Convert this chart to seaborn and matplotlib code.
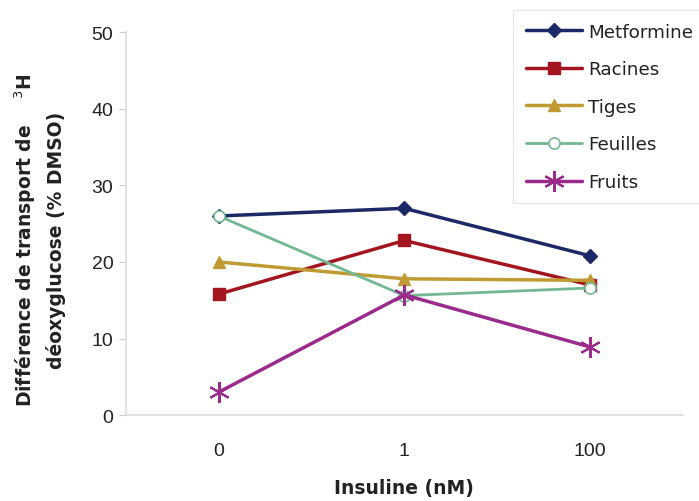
import matplotlib
matplotlib.use("Agg")
import matplotlib.pyplot as plt
import seaborn as sns
import pandas as pd

categories = ["0", "1", "100"]
metformine = [26.0, 27.0, 20.8]
racines = [15.8, 22.8, 17.0]
tiges = [20.0, 17.8, 17.6]
feuilles = [26.0, 15.6, 16.6]
fruits = [3.0, 15.7, 8.9]
y_ticks = [0, 10, 20, 30, 40, 50]

series = {
    "Metformine": metformine,
    "Racines": racines,
    "Tiges": tiges,
    "Feuilles": feuilles,
    "Fruits": fruits,
}
styles = {
    "Metformine": dict(color="#1c2966", marker="D", ms=7, mfc="#1c2966", mec="#1c2966", lw=2.5, mew=1),
    "Racines": dict(color="#a3161f", marker="s", ms=8, mfc="#a3161f", mec="#a3161f", lw=2.5, mew=1),
    "Tiges": dict(color="#c09a32", marker="^", ms=8, mfc="#c09a32", mec="#c09a32", lw=2.5, mew=1),
    "Feuilles": dict(color="#72b894", marker="o", ms=8, mfc="white", mec="#72b894", lw=2.0, mew=1.2),
    "Fruits": dict(color="#9a2a8c", marker=(6, 2, 0), ms=15, mfc="#9a2a8c", mec="#9a2a8c", lw=2.5, mew=1.5),
}

rows = []
for name, vals in series.items():
    for i, (c, v) in enumerate(zip(categories, vals)):
        rows.append(dict(serie=name, pos=i, cat=c, val=v))
df = pd.DataFrame(rows)

sns.set_theme(style="white")
plt.rcParams['font.family'] = ['Liberation Sans', 'DejaVu Sans']

fig = plt.figure(figsize=(6.99, 5.02), dpi=100)
ax = fig.add_axes([0.180, 0.171, 0.797, 0.763])

for name in series:
    sub = df[df.serie == name]
    st = styles[name]
    sns.lineplot(data=sub, x="pos", y="val", ax=ax, color=st["color"], lw=st["lw"],
                 marker=st["marker"], markersize=st["ms"], markerfacecolor=st["mfc"],
                 markeredgecolor=st["mec"], markeredgewidth=st["mew"], label=name)

ax.set_xlim(-0.5, 2.5)
ax.set_ylim(0, 50)
ax.set_yticks(y_ticks)
ax.set_xticks(range(len(categories)))
ax.set_xticklabels(categories)
ax.tick_params(axis="both", labelsize=14, colors="#222222")
ax.tick_params(axis="y", left=True, length=5, width=0.8, color="#cccccc", pad=4)
ax.tick_params(axis="x", bottom=False, pad=13)
for s in ["top", "right"]:
    ax.spines[s].set_visible(False)
ax.spines["left"].set_color("#dddddd")
ax.spines["bottom"].set_color("#dddddd")
ax.set_xlabel("Insuline (nM)", fontsize=13.5, fontweight="bold", labelpad=14,
              family="DejaVu Sans", color="#222222")
ax.set_ylabel("Différence de transport de    $^{3}$H\ndéoxyglucose (% DMSO)", fontsize=13.5,
              fontweight="bold", linespacing=1.45, family="DejaVu Sans",
              color="#222222")
ax.yaxis.set_label_coords(-0.108, 0.46)

handles, labels = ax.get_legend_handles_labels()
ax.get_legend().remove()
leg = fig.legend(handles, labels, loc="upper left", bbox_to_anchor=(0.734, 0.978),
                 prop={"family": "DejaVu Sans", "size": 13.2}, frameon=True, fancybox=False,
                 edgecolor="#dddddd", handlelength=3.1, handletextpad=0.3, labelspacing=1.07,
                 borderpad=0.68, borderaxespad=0)
leg.get_frame().set_linewidth(0.8)
for t in leg.get_texts():
    t.set_color("#222222")

fig.savefig("out.png", dpi=100)
